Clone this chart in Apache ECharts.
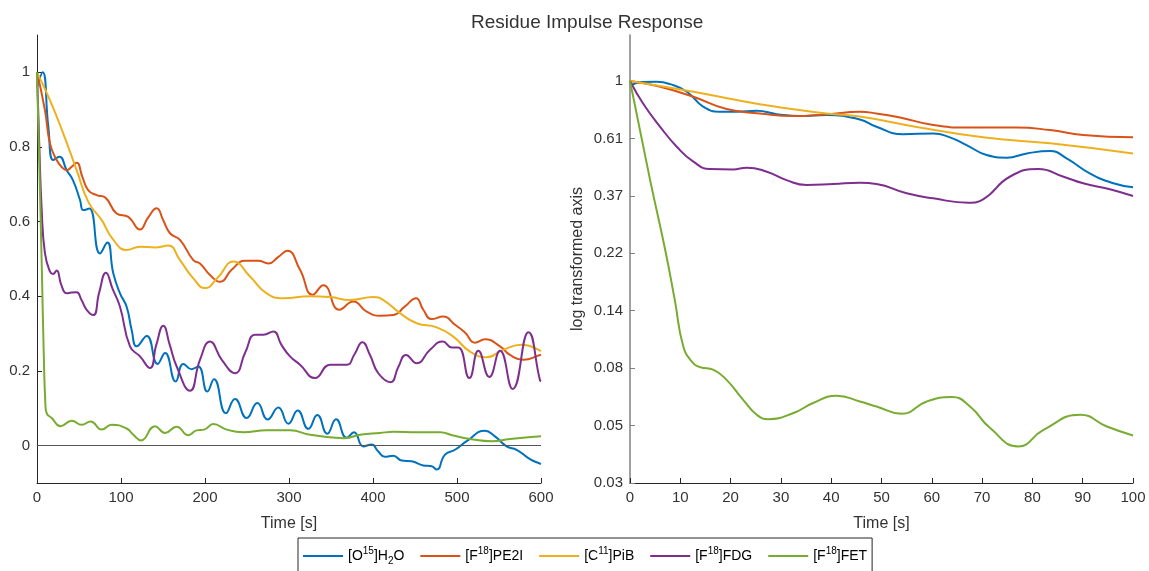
<!DOCTYPE html>
<html><head><meta charset="utf-8">
<script src="https://cdn.jsdelivr.net/npm/echarts@6.0.0/dist/echarts.min.js"></script>
<style>html,body{margin:0;padding:0;background:#fff}#c{width:1149px;height:571px}</style>
</head><body><div id="c"></div>
<script>
// ---- tick labels ----
const leftXTicks = [0, 100, 200, 300, 400, 500, 600];
const leftYTicks = [0, 0.2, 0.4, 0.6, 0.8, 1];
const rightXTicks = [0, 10, 20, 30, 40, 50, 60, 70, 80, 90, 100];
const rightYTicks = [-3.5, -3, -2.5, -2, -1.5, -1, -0.5, 0]; // ln(value)

// ---- series names ----
const seriesNames = ['h2o', 'pe2i', 'pib', 'fdg', 'fet'];
const legendLabels = ['[O{sup|15}]H{sub|2}O', '[F{sup|18}]PE2I', '[C{sup|11}]PiB', '[F{sup|18}]FDG', '[F{sup|18}]FET'];

// ---- left panel: [time s, response] ----
const h2oLeft = [[0,0.96],[6.7,1.0],[13.5,0.854],[19.4,0.765],[26.6,0.774],[35.3,0.738],[43,0.71],[51.2,0.658],[55.2,0.631],[62.3,0.635],[75,0.515],[83.7,0.544],[90.8,0.462],[98.8,0.408],[106.7,0.372],[112.7,0.31],[118.7,0.266],[130.6,0.294],[143.6,0.219],[152.4,0.248],[165.1,0.172],[174.2,0.219],[184.1,0.205],[192,0.212],[202.8,0.145],[210.7,0.178],[225,0.087],[235.7,0.125],[249.6,0.074],[262.3,0.114],[274.6,0.070],[287.3,0.102],[299.2,0.059],[310.3,0.094],[323,0.045],[333.7,0.082],[345.6,0.032],[356,0.071],[368.7,0.021],[377.4,0.036],[388.5,-0.002],[398.4,0.003],[406,-0.015],[414.3,-0.030],[424.2,-0.027],[434.1,-0.040],[446,-0.042],[459.9,-0.053],[469.8,-0.055],[475.8,-0.064],[485.7,-0.024],[497.6,-0.011],[511.5,0.012],[533.3,0.040],[545.2,0.025],[559.1,-0.002],[571,-0.011],[586.9,-0.036],[598.8,-0.048],[600,-0.049]];
const pe2iLeft = [[0,1.0],[9.5,0.898],[15.5,0.809],[23.4,0.765],[30,0.745],[35.3,0.738],[41.3,0.747],[47.2,0.758],[54,0.72],[61.1,0.684],[71,0.671],[81,0.665],[94.8,0.622],[108.7,0.613],[122.6,0.579],[132,0.61],[142.5,0.636],[150,0.605],[158.3,0.569],[170.2,0.551],[186.1,0.497],[194,0.488],[206,0.457],[217.9,0.439],[231.7,0.471],[247.6,0.495],[263.5,0.495],[275.4,0.488],[287,0.505],[298,0.522],[313.1,0.471],[328.2,0.404],[340.9,0.430],[359.9,0.364],[376.6,0.386],[392.5,0.359],[408.3,0.348],[424.2,0.350],[438.1,0.373],[451.2,0.395],[459.9,0.364],[469.8,0.339],[483.7,0.346],[497.6,0.324],[509.5,0.303],[521.4,0.276],[533.3,0.285],[551.2,0.266],[563.1,0.243],[579,0.230],[598.8,0.243],[600,0.244]];
const pibLeft = [[0,1.0],[15.5,0.925],[31.3,0.836],[47.2,0.738],[61.1,0.653],[77,0.604],[90.9,0.551],[106.7,0.524],[122.6,0.533],[140.5,0.531],[156.3,0.536],[170.2,0.497],[186.1,0.448],[200,0.422],[215,0.45],[233.7,0.493],[253.6,0.453],[273.4,0.408],[293.3,0.395],[325,0.400],[348.8,0.398],[372.6,0.390],[400.4,0.398],[412.3,0.390],[432.1,0.355],[452,0.328],[475.8,0.317],[495.6,0.292],[515.5,0.252],[535.3,0.237],[555.2,0.257],[577,0.270],[600,0.253]];
const fdgLeft = [[0,1.0],[2.5,0.82],[5.6,0.631],[9.5,0.515],[15.5,0.466],[19,0.46],[23.4,0.469],[29,0.43],[35.3,0.408],[41,0.41],[47.2,0.411],[53,0.39],[59.1,0.364],[67.1,0.350],[74,0.41],[82.1,0.463],[90,0.42],[98.8,0.372],[110.7,0.266],[122.6,0.239],[134.5,0.208],[142,0.27],[150.4,0.321],[158,0.27],[166.3,0.212],[182.1,0.147],[194,0.230],[206,0.279],[220,0.23],[235.7,0.194],[248,0.25],[259.5,0.297],[269.4,0.297],[281.3,0.306],[291,0.27],[301.2,0.239],[313.1,0.217],[331,0.181],[348.8,0.217],[368.7,0.217],[378,0.245],[387.3,0.277],[396.4,0.243],[406.3,0.194],[421,0.170],[430,0.21],[439.3,0.243],[452,0.221],[467.9,0.257],[483,0.279],[493.7,0.263],[501.6,0.263],[514.7,0.181],[525.4,0.254],[538.5,0.184],[551.2,0.254],[566.3,0.152],[585,0.304],[598.8,0.175],[600,0.172]];
const fetLeft = [[0,1.0],[2,0.82],[4,0.64],[6,0.45],[8,0.25],[10,0.11],[11.5,0.087],[17.5,0.074],[28.2,0.052],[41.3,0.067],[53.2,0.056],[63.9,0.065],[77,0.043],[88.9,0.056],[106.7,0.046],[114.7,0.029],[123.8,0.014],[140.5,0.052],[152.4,0.034],[166.3,0.051],[180.2,0.028],[190,0.041],[199,0.043],[209.9,0.058],[225.8,0.043],[245.6,0.036],[273.4,0.041],[301.2,0.041],[325,0.029],[352.8,0.022],[364.7,0.020],[384.5,0.029],[408.3,0.034],[424.2,0.037],[452,0.036],[479.8,0.036],[495.6,0.027],[515.5,0.018],[541.3,0.012],[563.1,0.018],[600,0.025]];

// ---- right panel: [time s, ln(response)] ----
const h2oRight = [[0,-0.04],[2.5,-0.01],[5.3,-0.008],[8,-0.028],[11.3,-0.094],[14.6,-0.225],[17.9,-0.268],[21.2,-0.268],[25.2,-0.26],[29.2,-0.289],[33.8,-0.306],[39.1,-0.297],[45.7,-0.335],[49,-0.399],[54.3,-0.463],[60.3,-0.457],[63.6,-0.491],[66.9,-0.558],[70.9,-0.645],[74.9,-0.668],[78.9,-0.631],[83.5,-0.61],[86.8,-0.674],[91.4,-0.804],[96.1,-0.891],[100,-0.926]];
const pe2iRight = [[0,0],[6,-0.051],[12.6,-0.138],[19.2,-0.245],[25.8,-0.283],[32.5,-0.306],[39.1,-0.291],[45.7,-0.268],[49,-0.283],[53.7,-0.318],[60.3,-0.384],[66.9,-0.405],[76.9,-0.405],[83.5,-0.428],[90.1,-0.471],[100,-0.491]];
const pibRight = [[0,0],[12.6,-0.094],[25.8,-0.202],[39.1,-0.283],[45.7,-0.31],[57,-0.4],[70.2,-0.491],[83.5,-0.543],[100,-0.631]];
const fdgRight = [[0,0],[2.6,-0.196],[6,-0.399],[9.3,-0.573],[12.6,-0.703],[15.9,-0.767],[20.5,-0.77],[23.2,-0.755],[27.2,-0.79],[31.1,-0.863],[35.1,-0.906],[40.4,-0.897],[45.7,-0.886],[49,-0.897],[55,-0.978],[60.3,-1.022],[67.3,-1.06],[70.2,-1.03],[75.5,-0.834],[81.2,-0.767],[86.2,-0.834],[90.1,-0.891],[95.4,-0.943],[100,-1.002]];
const fetRight = [[0,0],[4,-0.863],[7,-1.471],[8.9,-1.906],[10.6,-2.312],[12.3,-2.443],[13.9,-2.491],[16.6,-2.515],[19.2,-2.602],[22.5,-2.776],[25.2,-2.906],[27.5,-2.944],[32.5,-2.891],[36.4,-2.804],[41.1,-2.741],[45.7,-2.79],[49,-2.834],[54,-2.897],[59,-2.79],[64,-2.752],[67.6,-2.834],[71.6,-3.022],[77.2,-3.182],[82.2,-3.037],[89.5,-2.906],[94.8,-3.008],[100,-3.086]];

const colors = ['#0072BD', '#D95319', '#EDB120', '#7E2F8E', '#77AC30'];
const leftData = [h2oLeft, pe2iLeft, pibLeft, fdgLeft, fetLeft];
const rightData = [h2oRight, pe2iRight, pibRight, fdgRight, fetRight];

const FONT = '"Liberation Sans", Arial, Helvetica, sans-serif';
const TXT = '#333333';

function fmtNum(v) { return String(parseFloat(v.toFixed(2))); }

function baseAxis(extra) {
  return Object.assign({
    type: 'value',
    splitLine: { show: false },
    axisLine: { show: true, onZero: false, lineStyle: { color: '#262626', width: 1 } },
    axisTick: { show: true, inside: true, length: 5, lineStyle: { color: '#262626' } },
    axisLabel: { color: TXT, fontSize: 15, fontFamily: FONT, margin: 7 },
    nameTextStyle: { color: TXT, fontSize: 16, fontFamily: FONT },
    nameLocation: 'middle'
  }, extra);
}

const series = [];
seriesNames.forEach((n, i) => {
  const s = {
    name: n, type: 'line', xAxisIndex: 0, yAxisIndex: 0,
    data: leftData[i], smooth: 0.5, symbol: 'none', showSymbol: false,
    lineStyle: { color: colors[i], width: 2 }, itemStyle: { color: colors[i] },
    z: 3 + i
  };
  if (i === 0) {
    s.markLine = {
      silent: true, symbol: 'none', label: { show: false },
      lineStyle: { color: '#555', width: 1, type: 'solid' },
      emphasis: { disabled: true },
      data: [{ yAxis: 0 }]
    };
  }
  series.push(s);
});
seriesNames.forEach((n, i) => {
  series.push({
    name: n, type: 'line', xAxisIndex: 1, yAxisIndex: 1,
    data: rightData[i], smooth: 0.5, symbol: 'none', showSymbol: false,
    lineStyle: { color: colors[i], width: 2 }, itemStyle: { color: colors[i] },
    z: 3 + i
  });
});

const option = {
  animation: false,
  backgroundColor: '#ffffff',
  textStyle: { fontFamily: FONT },
  title: {
    text: 'Residue Impulse Response',
    left: 466, top: 8,
    textStyle: { color: TXT, fontSize: 19, fontWeight: 'normal', fontFamily: FONT }
  },
  legend: {
    data: seriesNames.map(n => ({ name: n, icon: 'rect' })),
    left: 298, top: 538,
    orient: 'horizontal',
    itemWidth: 40, itemHeight: 2, itemGap: 16,
    padding: [8, 5, 14, 5],
    borderColor: '#262626', borderWidth: 1,
    backgroundColor: '#fff',
    formatter: function (name) { return legendLabels[seriesNames.indexOf(name)]; },
    textStyle: {
      color: '#000', fontSize: 14, fontFamily: FONT, lineHeight: 20,
      rich: {
        sup: { fontSize: 10, fontFamily: FONT, color: '#000', verticalAlign: 'top', lineHeight: 20, padding: [0, 0, 7, 0] },
        sub: { fontSize: 10, fontFamily: FONT, color: '#000', verticalAlign: 'bottom', lineHeight: 20, padding: [7, 0, 0, 0] }
      }
    }
  },
  grid: [
    { left: 37, top: 35, width: 504, height: 448, containLabel: false },
    { left: 630, top: 35, width: 503, height: 448, containLabel: false }
  ],
  xAxis: [
    baseAxis({ gridIndex: 0, min: 0, max: 600, interval: 100, name: 'Time [s]', nameGap: 33 }),
    baseAxis({ gridIndex: 1, min: 0, max: 100, interval: 10, name: 'Time [s]', nameGap: 33 })
  ],
  yAxis: [
    baseAxis({ gridIndex: 0, min: -0.1, max: 1.1,
      axisTick: { show: true, inside: true, length: 5, lineStyle: { color: '#262626' }, customValues: leftYTicks },
      axisLabel: { color: TXT, fontSize: 15, fontFamily: FONT, margin: 7, customValues: leftYTicks, formatter: v => fmtNum(v) } }),
    baseAxis({ gridIndex: 1, min: -3.5, max: 0.4, name: 'log transformed axis', nameGap: 44,
      axisLine: { show: true, onZero: false, lineStyle: { color: '#808080', width: 1.5 } },
      axisTick: { show: true, inside: true, length: 5, lineStyle: { color: '#808080' }, customValues: rightYTicks },
      axisLabel: { color: TXT, fontSize: 15, fontFamily: FONT, margin: 7, customValues: rightYTicks, formatter: v => fmtNum(Math.exp(v)) } })
  ],
  series: series
};

const chart = echarts.init(document.getElementById('c'), null, { renderer: 'canvas' });
chart.setOption(option);
</script></body></html>
